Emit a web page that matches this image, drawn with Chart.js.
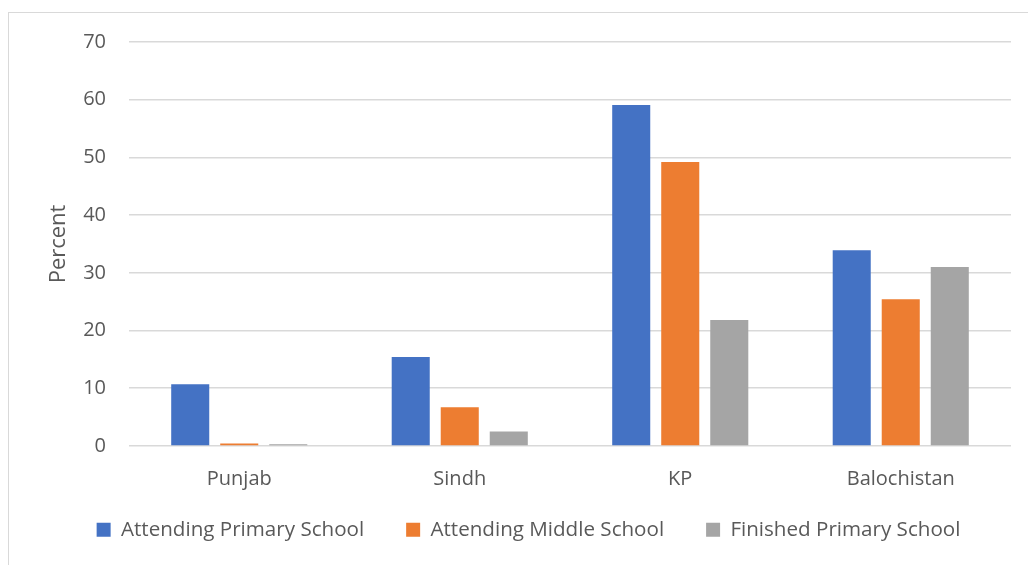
<!DOCTYPE html>
<html>
<head>
<meta charset="utf-8">
<script src="https://cdn.jsdelivr.net/npm/chart.js@4"></script>
<style>
  html, body { margin: 0; padding: 0; background: #ffffff; }
  #wrap { position: relative; width: 1028px; height: 565px; overflow: hidden; }
  #frame { position: absolute; left: 8px; top: 12px; width: 1100px; height: 600px;
           border: 1px solid #d9d9d9; box-sizing: border-box; }
  canvas { position: absolute; left: 0; top: 0; }
</style>
</head>
<body>
<div id="wrap">
  <div id="frame"></div>
  <canvas id="chart" width="1028" height="565"></canvas>
</div>
<script>
// Provinces
const provinces = ['Punjab', 'Sindh', 'KP', 'Balochistan'];

// Percent of children in each group
const attendingPrimary = [10.7, 15.4, 59.1, 33.9];
const attendingMiddle = [0.4, 6.7, 49.2, 25.4];
const finishedPrimary = [0.3, 2.5, 21.8, 31.0];

const seriesNames = ['Attending Primary School', 'Attending Middle School', 'Finished Primary School'];
const seriesColors = ['#4472C4', '#ED7D31', '#A5A5A5'];

const yTicks = [0, 10, 20, 30, 40, 50, 60, 70];

const FONT = '"Open Sans", sans-serif';
const TEXT = '#595959';

// The category labels hang below the slim x-axis box; widen its clip area after layout.
const labelRoom = {
  id: 'labelRoom',
  afterLayout(chart) { chart.scales.x.bottom += 40; }
};

new Chart(document.getElementById('chart'), {
  type: 'bar',
  data: {
    labels: provinces,
    datasets: [attendingPrimary, attendingMiddle, finishedPrimary].map((vals, i) => ({
      label: seriesNames[i],
      data: vals,
      backgroundColor: seriesColors[i],
      borderWidth: 0,
      categoryPercentage: 0.667,
      barPercentage: 0.776
    }))
  },
  plugins: [labelRoom],
  options: {
    responsive: false,
    animation: false,
    devicePixelRatio: 1,
    layout: { padding: { top: 42, right: 17, left: 46, bottom: 15 } },
    plugins: {
      tooltip: { enabled: false },
      legend: {
        position: 'bottom',
        labels: {
          color: TEXT,
          font: { family: FONT, size: 20.6 },
          boxWidth: 14,
          boxHeight: 14,
          padding: 42
        }
      }
    },
    scales: {
      x: {
        afterFit: (axis) => { axis.height = 31.5; },
        grid: { display: false, drawTicks: false },
        border: { display: false },
        ticks: { color: TEXT, font: { family: FONT, size: 20 }, padding: 21 }
      },
      y: {
        min: 0,
        max: 70,
        afterBuildTicks: (axis) => { axis.ticks = yTicks.map(v => ({ value: v })); },
        afterFit: (axis) => { axis.width = 83; },
        grid: { color: '#d9d9d9', lineWidth: 1.5, drawTicks: false },
        border: { display: false },
        ticks: { color: TEXT, font: { family: FONT, size: 20 }, padding: 23 },
        title: {
          display: true,
          text: 'Percent',
          color: TEXT,
          font: { family: FONT, size: 22 },
          padding: { top: 0, bottom: 0 }
        }
      }
    }
  }
});
</script>
</body>
</html>
